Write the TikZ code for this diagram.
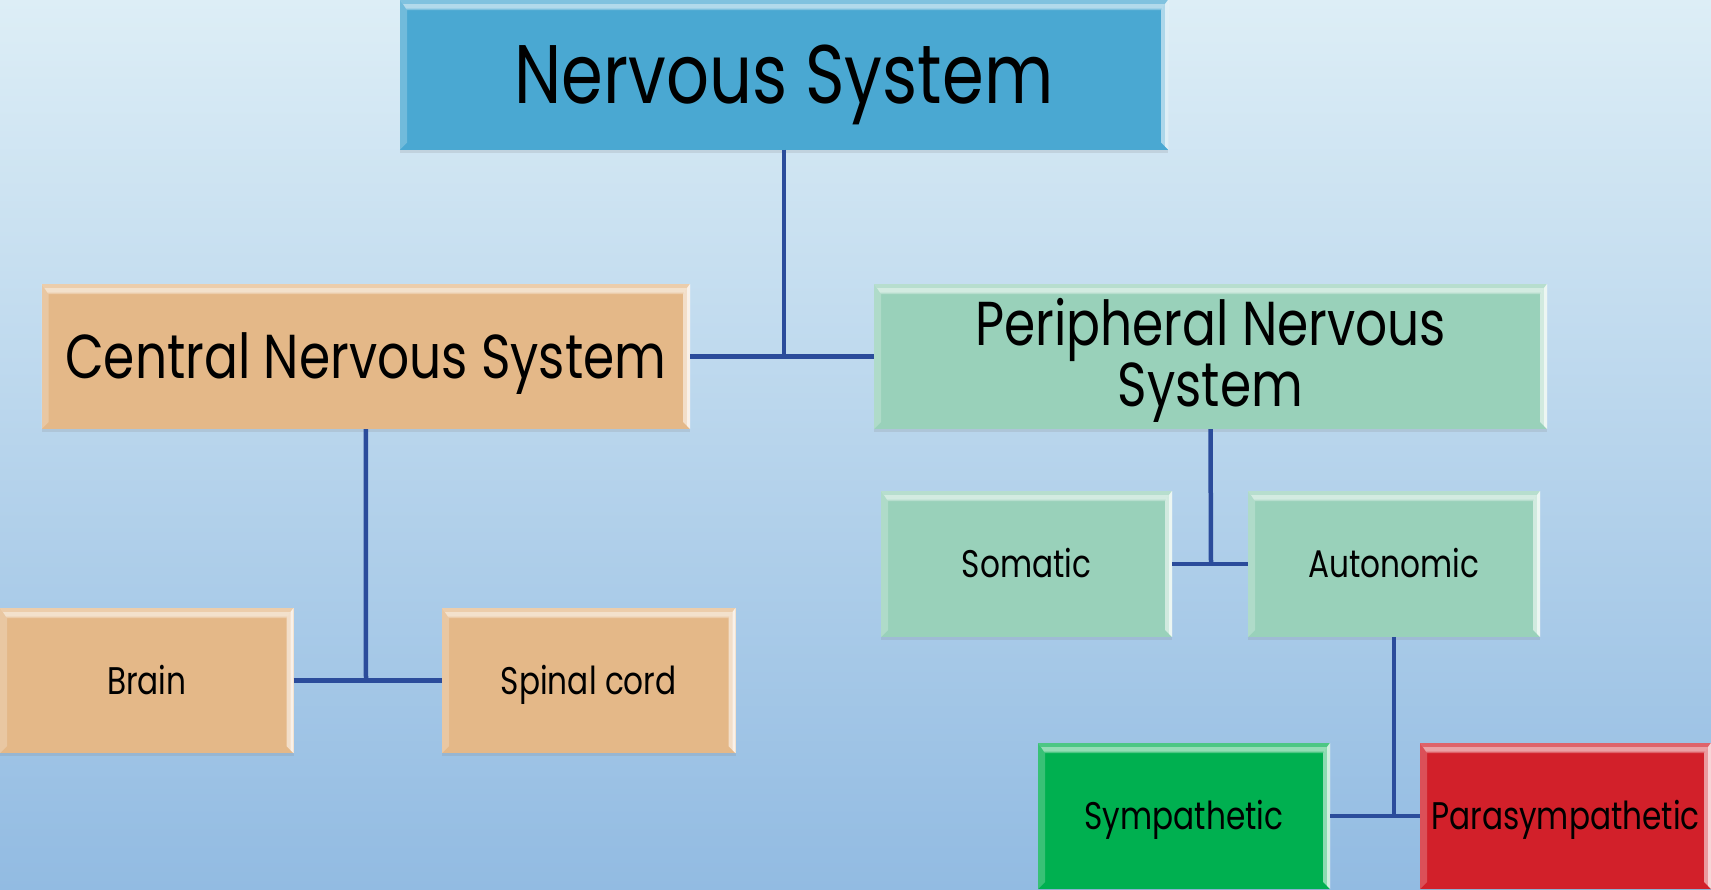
\documentclass[tikz,border=0pt]{standalone}
\usepackage{fontspec}
\setmainfont{Poppins}[FakeStretch=0.81]
\usetikzlibrary{shadows}
\definecolor{bgtop}{HTML}{DDEEF6}
\definecolor{bgmid}{HTML}{BDD8EE}
\definecolor{bgbot}{HTML}{92BBE2}
\definecolor{nsblue}{HTML}{4AA8D2}
\definecolor{tan}{HTML}{E4B888}
\definecolor{mint}{HTML}{99D1BA}
\definecolor{sgreen}{HTML}{00B050}
\definecolor{pred}{HTML}{D2202A}
\definecolor{conn}{HTML}{2B4C9B}
\tikzset{
  bevel/.style={path picture={
    \path (path picture bounding box.north west) coordinate (bnw)
          (path picture bounding box.south east) coordinate (bse)
          (path picture bounding box.north east) coordinate (bne)
          (path picture bounding box.south west) coordinate (bsw);
    % top strip
    \fill[white,opacity=.30] (bnw) -- (bne) -- ([shift={(-7pt,-10pt)}]bne) -- ([shift={(7pt,-10pt)}]bnw) -- cycle;
    \fill[white,opacity=.40] ([shift={(3pt,-4pt)}]bnw) -- ([shift={(-3pt,-4pt)}]bne) -- ([shift={(-6pt,-8.5pt)}]bne) -- ([shift={(6pt,-8.5pt)}]bnw) -- cycle;
    % left strip
    \fill[white,opacity=.22] (bnw) -- ([shift={(7pt,-10pt)}]bnw) -- ([shift={(7pt,7pt)}]bsw) -- (bsw) -- cycle;
    % right strip
    \fill[white,opacity=.55] (bne) -- (bse) -- ([shift={(-7pt,7pt)}]bse) -- ([shift={(-7pt,-10pt)}]bne) -- cycle;
    \fill[white,opacity=.6] (bne) -- (bse) -- ([shift={(-3pt,3pt)}]bse) -- ([shift={(-3pt,-4pt)}]bne) -- cycle;
  }},
  box/.style={bevel, rectangle, inner sep=0pt, text=black,
    drop shadow={opacity=.18, shadow xshift=0pt, shadow yshift=-3pt}},
  bigtext/.style={font=\fontsize{83}{83}\selectfont, text height=58pt, text depth=0pt},
  midtext/.style={font=\fontsize{62}{61}\selectfont, text height=44pt, text depth=0pt},
  smalltext/.style={font=\fontsize{38.5}{40}\selectfont, text height=27pt, text depth=0pt},
  link/.style={draw=conn, line width=4.5pt}
}
\begin{document}
\begin{tikzpicture}[x=1pt,y=-1pt]
\useasboundingbox (0,0) rectangle (1711,889);
\shade[top color=bgtop, middle color=bgmid, bottom color=bgbot] (0,0) rectangle (1711,889);

\coordinate (j1) at (784,356.5);
\coordinate (j2) at (366,680.5);
\coordinate (j3) at (1211,564);
\coordinate (j4) at (1394,816);

\node[box, fill=nsblue, minimum width=768pt, minimum height=149.5pt, bigtext] (ns) at (784,74.75) {Nervous System};
\node[box, fill=tan, minimum width=648.5pt, minimum height=145pt, midtext] (cns) at (365.75,356.5) {Central Nervous System};
\node[box, fill=mint, minimum width=673pt, minimum height=145pt] (pns) at (1210.5,356.5) {};
\node[font=\fontsize{62}{61}\selectfont, align=center] (pnst) at (1210.5,360) {Peripheral Nervous\\System};
\node[box, fill=mint, minimum width=291pt, minimum height=146pt, smalltext] (som) at (1026.5,564) {Somatic};
\node[box, fill=mint, minimum width=292pt, minimum height=146pt, smalltext] (aut) at (1394,564) {Autonomic};
\node[box, fill=tan, minimum width=293.5pt, minimum height=145pt, smalltext] (brain) at (146.75,680.5) {Brain};
\node[box, fill=tan, minimum width=293.5pt, minimum height=145pt, smalltext] (spinal) at (588.75,680.5) {Spinal cord};
\node[box, fill=sgreen, minimum width=292pt, minimum height=146pt, smalltext] (symp) at (1184,816) {Sympathetic};
\node[box, fill=pred, minimum width=291pt, minimum height=146pt, smalltext] (para) at (1565.5,816) {Parasympathetic};

\draw[link] (ns.south) -- (j1);
\draw[link] (cns.east) -- (pns.west);
\draw[link] (cns.south) -- (j2);
\draw[link] (brain.east) -- (spinal.west);
\draw[link] (pns.south) -- (j3);
\draw[link] (som.east) -- (aut.west);
\draw[link] (aut.south) -- (j4);
\draw[link] (symp.east) -- (para.west);
\end{tikzpicture}
\end{document}
